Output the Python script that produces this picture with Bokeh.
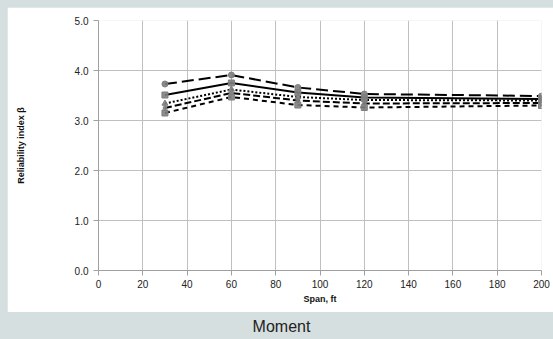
from bokeh.plotting import figure
from bokeh.layouts import column
from bokeh.models import Div, NumeralTickFormatter
from bokeh.embed import file_html
from bokeh.resources import INLINE

span = [30, 60, 90, 120, 200]
s1 = [3.73, 3.91, 3.66, 3.53, 3.49]
s2 = [3.51, 3.75, 3.56, 3.46, 3.43]
s3 = [3.34, 3.62, 3.47, 3.41, 3.40]
s4 = [3.25, 3.55, 3.40, 3.34, 3.35]
s5 = [3.15, 3.47, 3.31, 3.26, 3.30]
x_ticks = list(range(0, 201, 20))
y_ticks = [0.0, 1.0, 2.0, 3.0, 4.0, 5.0]

BG = "#d6dfdf"
FONT = "Liberation Sans"

p = figure(width=546, height=305, x_range=(0, 200), y_range=(0, 5),
           output_backend="svg", toolbar_location=None,
           min_border_left=91, min_border_right=12, min_border_top=13, min_border_bottom=42,
           background_fill_color="white", border_fill_color="white",
           margin=(7, 0, 0, 7))
p.outline_line_color = None

p.xaxis.ticker = x_ticks
p.yaxis.ticker = y_ticks
p.yaxis.formatter = NumeralTickFormatter(format="0.0")
for ax in (p.xaxis, p.yaxis):
    ax.axis_line_color = "#a0a0a0"
    ax.major_tick_line_color = "#a0a0a0"
    ax.major_tick_in = 0
    ax.major_tick_out = 5
    ax.minor_tick_line_color = None
    ax.major_label_text_font = FONT
    ax.major_label_text_font_size = "10px"
    ax.major_label_text_color = "#222222"
    ax.axis_label_text_font = FONT
    ax.axis_label_text_font_size = "9px"
    ax.axis_label_text_font_style = "bold"
    ax.axis_label_text_color = "#111111"
p.xaxis.axis_label = "Span, ft"
p.yaxis.axis_label = "Reliability index β"
p.xaxis.axis_label_standoff = 3
p.yaxis.axis_label_standoff = 46
p.xaxis.major_label_standoff = 4

p.xgrid.grid_line_color = "#c0c0c0"
p.ygrid.grid_line_color = "#c0c0c0"
p.xgrid.ticker = x_ticks
p.ygrid.ticker = y_ticks

series = [
    (s1, "12 5", "circle"),
    (s2, "solid", "square"),
    (s3, "2 2", "triangle"),
    (s4, "7 3", "diamond"),
    (s5, "5 4", "square"),
]
for ys, dash, marker in series:
    p.line(span, ys, line_color="black", line_width=2, line_dash=dash)
for ys, dash, marker in series:
    p.scatter(span, ys, marker=marker, size=6, fill_color="#7f7f7f",
              line_color="#7f7f7f", fill_alpha=0.9)

cap = Div(text="Moment", width=553, height=27,
          styles={"font-family": FONT, "font-size": "16px", "color": "#222222",
                  "text-align": "center", "width": "553px", "line-height": "19px"})

layout = column(p, cap, width=553, height=339, spacing=0,
                styles={"background-color": BG})

open("out.html", "w").write(file_html(layout, INLINE))
